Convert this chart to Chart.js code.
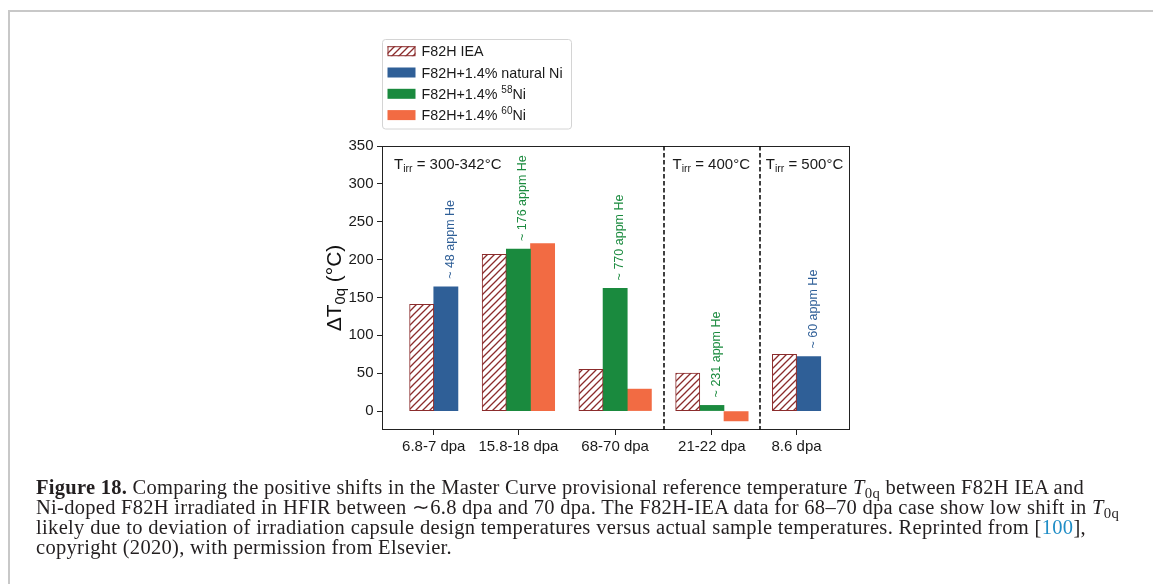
<!DOCTYPE html>
<html>
<head>
<meta charset="utf-8">
<script src="https://cdn.jsdelivr.net/npm/chart.js@4.4.1/dist/chart.umd.min.js"></script>
<style>
  html, body { margin: 0; padding: 0; background: #fff; overflow: hidden; }
  #frame { position: absolute; left: 8px; top: 10px; width: 1400px; height: 800px;
           border-top: 2px solid #c8c8c8; border-left: 2px solid #c8c8c8; }
  #chart { position: absolute; left: 0; top: 0; }
  #caption { position: absolute; left: 36px; top: 476.5px; font-family: "Liberation Serif", serif;
             font-size: 20.5px; line-height: 20.2px; color: #231f20; white-space: nowrap; }
  #caption .line { display: inline-block; }
  #caption .ref { color: #1f8dc6; }
  #caption sub { font-size: 0.72em; vertical-align: -0.25em; line-height: 0; }
</style>
</head>
<body>
<div id="frame"></div>
<canvas id="chart" width="1153" height="584"></canvas>
<div id="caption">
  <span class="line"><b>Figure 18.</b> Comparing the positive shifts in the Master Curve provisional reference temperature <i>T</i><sub>0q</sub> between F82H IEA and</span><br>
  <span class="line">Ni-doped F82H irradiated in HFIR between ∼6.8 dpa and 70 dpa. The F82H-IEA data for 68–70 dpa case show low shift in <i>T</i><sub>0q</sub></span><br>
  <span class="line">likely due to deviation of irradiation capsule design temperatures versus actual sample temperatures. Reprinted from [<span class="ref">100</span>],</span><br>
  <span class="line">copyright (2020), with permission from Elsevier.</span>
</div>
<script>
// data
const categories = ["6.8-7 dpa", "15.8-18 dpa", "68-70 dpa", "21-22 dpa", "8.6 dpa"];
const seriesNames = ["F82H IEA", "F82H+1.4% natural Ni", "F82H+1.4% ^58^Ni", "F82H+1.4% ^60^Ni"];
const ieaValues = [141, 207, 55, 50, 75];
const naturalNiValues = [164, null, null, null, 72];
const ni58Values = [null, 214, 162, 7.5, null];
const ni60Values = [null, 221, 29, -13, null];
const yTicks = [0, 50, 100, 150, 200, 250, 300, 350];
const tempLabels = ["300-342°C", "400°C", "500°C"];
const tempFirstCategory = [0, 3, 4];
const heNotes = [
    { text: "~ 48 appm He", series: 1, cat: 0 },
    { text: "~ 176 appm He", series: 2, cat: 1 },
    { text: "~ 770 appm He", series: 2, cat: 2 },
    { text: "~ 231 appm He", series: 2, cat: 3 },
    { text: "~ 60 appm He", series: 1, cat: 4 },
];

const HATCH = "#8b2c2c";
const BLUE = "#2f5f97";
const GREEN = "#1a8a3e";
const ORANGE = "#f26b43";
const FONT = '"Liberation Sans", Arial, sans-serif';
const seriesColors = [HATCH, BLUE, GREEN, ORANGE];

const seriesValues = [ieaValues, naturalNiValues, ni58Values, ni60Values];

// bars sit side by side in each group, one empty slot between groups
const slots = seriesValues.map(() => []);
const groupStarts = [];
const groupCenters = [];
let nextSlot = 0;
categories.forEach((c, i) => {
    groupStarts.push(nextSlot);
    let k = 0;
    seriesValues.forEach((vals, s) => {
        if (vals[i] !== null) {
            slots[s][i] = nextSlot + k;
            k++;
        }
    });
    groupCenters.push(nextSlot + (k - 1) / 2);
    nextSlot += k + 1;
});
const separators = tempFirstCategory.slice(1).map((c) => groupStarts[c] - 1);

// stretch caption lines to the widths of the printed page
const captionWidths = [1048, 1083, 1050, 416];
document.querySelectorAll("#caption .line").forEach((el, i) => {
    const n = el.textContent.length;
    const w = el.getBoundingClientRect().width;
    el.style.letterSpacing = ((captionWidths[i] - w) / n).toFixed(3) + "px";
});

const canvas = document.getElementById("chart");
const ctx = canvas.getContext("2d");

function makeHatch(color) {
    const c = document.createElement("canvas");
    c.width = 7;
    c.height = 7;
    const g = c.getContext("2d");
    g.fillStyle = "#fff";
    g.fillRect(0, 0, 7, 7);
    g.strokeStyle = color;
    g.lineWidth = 1.3;
    g.beginPath();
    g.moveTo(0, 7); g.lineTo(7, 0);
    g.moveTo(-1, 1); g.lineTo(1, -1);
    g.moveTo(6, 8); g.lineTo(8, 6);
    g.stroke();
    return ctx.createPattern(c, "repeat");
}
const hatch = makeHatch(HATCH);

// text with ^sup^ and _sub_ parts
function parts(str) {
    return str.split(/(\^[^^]*\^|_[^_]*_)/).filter((s) => s).map((s) => {
        if (s[0] === "^") return { t: s.slice(1, -1), mode: "sup" };
        if (s[0] === "_") return { t: s.slice(1, -1), mode: "sub" };
        return { t: s, mode: "normal" };
    });
}
function drawRich(g, str, x, y, size, color, align) {
    const ps = parts(str);
    const fontFor = (p) => (p.mode === "normal" ? size : size * 0.7) + "px " + FONT;
    let w = 0;
    ps.forEach((p) => {
        g.font = fontFor(p);
        p.w = g.measureText(p.t).width;
        w += p.w;
    });
    let cx = align === "center" ? x - w / 2 : x;
    g.fillStyle = color;
    g.textAlign = "left";
    g.textBaseline = "alphabetic";
    ps.forEach((p) => {
        g.font = fontFor(p);
        const dy = p.mode === "sub" ? size * 0.22 : p.mode === "sup" ? -size * 0.4 : 0;
        g.fillText(p.t, cx, y + dy);
        cx += p.w;
    });
}

const extras = {
    id: "extras",
    afterDatasetsDraw(chart) {
        const g = chart.ctx;
        const a = chart.chartArea;
        const xs = chart.scales.x;
        const ys = chart.scales.y;
        g.save();

        // frame
        g.strokeStyle = "#222";
        g.lineWidth = 1;
        g.strokeRect(a.left + 0.5, a.top + 0.5, a.right - a.left - 1, a.bottom - a.top - 1);

        // dashed separators
        g.setLineDash([4.5, 2.5]);
        g.lineWidth = 1.6;
        g.strokeStyle = "#111";
        separators.forEach((s) => {
            const px = Math.round(xs.getPixelForValue(s));
            g.beginPath();
            g.moveTo(px, a.top);
            g.lineTo(px, a.bottom);
            g.stroke();
        });
        g.setLineDash([]);

        // irradiation temperatures
        const tOffsets = [12, 9, 5.5];
        tempLabels.forEach((t, j) => {
            const x0 = j === 0 ? a.left : xs.getPixelForValue(separators[j - 1]);
            drawRich(g, "T_irr_ = " + t, x0 + tOffsets[j], a.top + 22.5, 15, "#1a1a1a", "left");
        });

        // helium notes above bars
        heNotes.forEach((n) => {
            const px = xs.getPixelForValue(slots[n.series][n.cat]);
            const py = ys.getPixelForValue(seriesValues[n.series][n.cat]);
            g.save();
            g.translate(px + 4.5, py - 8);
            g.rotate(-Math.PI / 2);
            g.font = "12.5px " + FONT;
            g.fillStyle = seriesColors[n.series];
            g.textAlign = "left";
            g.textBaseline = "middle";
            g.fillText(n.text, 0, 0);
            g.restore();
        });

        // y title
        g.save();
        g.translate(a.left - 41.5, (a.top + a.bottom) / 2);
        g.rotate(-Math.PI / 2);
        drawRich(g, "ΔT_0q_ (°C)", 0, 0, 21, "#111", "center");
        g.restore();

        // legend
        const lx = a.left + 0.5;
        const ly = a.top - 106.5;
        g.beginPath();
        g.roundRect(lx, ly, 189, 89.5, 3);
        g.fillStyle = "#fff";
        g.fill();
        g.strokeStyle = "#d4d4d4";
        g.lineWidth = 1;
        g.stroke();
        seriesNames.forEach((name, s) => {
            const cy = ly + 11.7 + s * 21.3;
            if (s === 0) {
                g.fillStyle = hatch;
                g.fillRect(lx + 5, cy - 5, 28, 10);
                g.strokeStyle = HATCH;
                g.strokeRect(lx + 5.5, cy - 4.5, 27, 9);
            } else {
                g.fillStyle = seriesColors[s];
                g.fillRect(lx + 5, cy - 5, 28, 10);
            }
            drawRich(g, name, lx + 39, cy + 5, 14.3, "#1a1a1a", "left");
        });

        g.restore();
    },
};

Chart.defaults.font.family = FONT;

new Chart(ctx, {
    type: "bar",
    data: {
        datasets: seriesValues.map((vals, s) => ({
            label: seriesNames[s],
            data: vals
                .map((v, i) => (v === null ? null : { x: slots[s][i], y: v }))
                .filter((p) => p),
            backgroundColor: s === 0 ? hatch : seriesColors[s],
            borderColor: HATCH,
            borderWidth: s === 0 ? 1 : 0,
            borderSkipped: false,
            grouped: false,
            barPercentage: 1,
            categoryPercentage: 1,
        })),
    },
    options: {
        responsive: false,
        animation: false,
        events: [],
        layout: {
            padding: { top: 146, right: 303, left: 0, bottom: 0 },
        },
        scales: {
            x: {
                type: "linear",
                min: -1.64,
                max: 17.71,
                offset: false,
                afterBuildTicks: (scale) => {
                    scale.ticks = groupCenters.map((v) => ({ value: v }));
                },
                afterFit: (scale) => {
                    scale.height = 154;
                },
                border: { display: false },
                grid: {
                    offset: false,
                    drawOnChartArea: false,
                    tickLength: 5,
                    color: "#222",
                },
                ticks: {
                    autoSkip: false,
                    maxRotation: 0,
                    padding: 2.5,
                    color: "#1a1a1a",
                    font: { size: 15 },
                    callback: (value, index) => categories[index],
                },
            },
            y: {
                min: -25,
                max: 350,
                afterBuildTicks: (scale) => {
                    scale.ticks = yTicks.map((v) => ({ value: v }));
                },
                afterFit: (scale) => {
                    scale.width = 382;
                },
                border: { display: false },
                grid: {
                    drawOnChartArea: false,
                    tickLength: 5,
                    color: "#222",
                },
                ticks: {
                    padding: 3.5,
                    color: "#1a1a1a",
                    font: { size: 15 },
                },
            },
        },
        plugins: {
            legend: { display: false },
            tooltip: { enabled: false },
        },
    },
    plugins: [extras],
});
</script>
</body>
</html>
